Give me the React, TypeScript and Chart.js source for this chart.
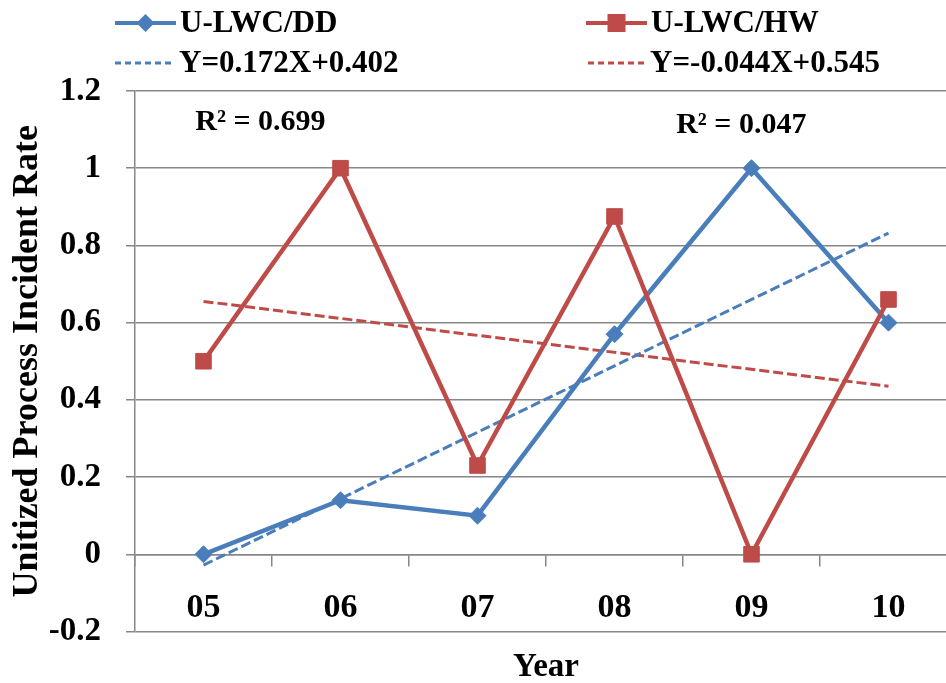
import { useEffect, useRef } from 'react';
import { Chart, registerables } from 'chart.js';

Chart.register(...registerables);

const years = ['05', '06', '07', '08', '09', '10'];
const ddRates = [0, 0.14, 0.1, 0.57, 1.0, 0.6];
const hwRates = [0.5, 1.0, 0.23, 0.875, 0, 0.66];
// linear trendlines, only the end points at 05 and 10
const ddTrend = [-0.028, null, null, null, null, 0.832];
const hwTrend = [0.655, null, null, null, null, 0.435];
const yTicks = [-0.2, 0, 0.2, 0.4, 0.6, 0.8, 1, 1.2];
const r2Texts = ['R² = 0.699', 'R² = 0.047'];
const r2Index = [-0.06, 3.45];
const r2Value = [1.12, 1.112];

const BLUE = '#4A7EBB';
const RED = '#BE4B48';
const GRID = '#878787';
const FONT = "'Liberation Serif', 'Times New Roman', serif";

// Excel style legend in two columns above the plot
const legendPlugin = {
  id: 'excelLegend',
  afterDraw(chart: any) {
    const { ctx } = chart;
    const slots = [
      { ds: 0, x: 115, y: 23, w: 61 },
      { ds: 1, x: 586, y: 23, w: 61 },
      { ds: 2, x: 115, y: 63, w: 60 },
      { ds: 3, x: 588, y: 63, w: 58 },
    ];
    ctx.save();
    slots.forEach((s) => {
      const ds = chart.data.datasets[s.ds];
      const trend = ds.pointRadius === 0;
      ctx.strokeStyle = ds.borderColor;
      ctx.lineWidth = trend ? 3 : 4;
      ctx.setLineDash(trend ? [6, 4] : []);
      ctx.beginPath();
      ctx.moveTo(s.x, s.y);
      ctx.lineTo(s.x + s.w, s.y);
      ctx.stroke();
      ctx.setLineDash([]);
      const cx = s.x + s.w / 2;
      ctx.fillStyle = ds.borderColor;
      if (ds.pointStyle === 'rectRot') {
        const r = 9;
        ctx.beginPath();
        ctx.moveTo(cx, s.y - r);
        ctx.lineTo(cx + r, s.y);
        ctx.lineTo(cx, s.y + r);
        ctx.lineTo(cx - r, s.y);
        ctx.closePath();
        ctx.fill();
      } else if (ds.pointStyle === 'rect') {
        ctx.fillRect(cx - 9, s.y - 9, 18, 18);
      }
      ctx.fillStyle = '#000';
      ctx.font = `bold 31px ${FONT}`;
      ctx.textAlign = 'left';
      ctx.textBaseline = 'middle';
      ctx.fillText(ds.label, s.x + s.w + 4, s.y + 1);
    });
    ctx.restore();
  },
};

// R² labels placed through the scales
const r2Plugin = {
  id: 'r2Labels',
  afterDraw(chart: any) {
    const { ctx, scales } = chart;
    ctx.save();
    ctx.fillStyle = '#000';
    ctx.font = `bold 30px ${FONT}`;
    ctx.textAlign = 'left';
    ctx.textBaseline = 'middle';
    r2Texts.forEach((t, i) => {
      ctx.fillText(t, scales.x.getPixelForValue(r2Index[i]), scales.y.getPixelForValue(r2Value[i]));
    });
    ctx.restore();
  },
};

export default function App() {
  const canvasRef = useRef<HTMLCanvasElement>(null);

  useEffect(() => {
    if (!canvasRef.current) return;
    const chart = new Chart(canvasRef.current, {
      type: 'line',
      data: {
        labels: years,
        datasets: [
          {
            label: 'U-LWC/DD',
            data: ddRates,
            borderColor: BLUE,
            backgroundColor: BLUE,
            borderWidth: 4.5,
            pointStyle: 'rectRot',
            pointRadius: 8.5,
            pointBorderWidth: 1,
            tension: 0,
            order: 1,
          },
          {
            label: 'U-LWC/HW',
            data: hwRates,
            borderColor: RED,
            backgroundColor: RED,
            borderWidth: 4.5,
            pointStyle: 'rect',
            pointRadius: 11,
            pointBorderWidth: 1,
            tension: 0,
            order: 0,
          },
          {
            label: 'Y=0.172X+0.402',
            data: ddTrend,
            borderColor: BLUE,
            borderWidth: 3,
            borderDash: [10, 4],
            pointRadius: 0,
            spanGaps: true,
            order: 2,
          },
          {
            label: 'Y=-0.044X+0.545',
            data: hwTrend,
            borderColor: RED,
            borderWidth: 3,
            borderDash: [10, 4],
            pointRadius: 0,
            spanGaps: true,
            order: 2,
          },
        ],
      },
      options: {
        animation: false,
        responsive: false,
        layout: { padding: { top: 91, bottom: 51.5, left: 0, right: 0 } },
        plugins: {
          legend: { display: false },
          tooltip: { enabled: false },
        },
        scales: {
          x: {
            type: 'category',
            position: { y: 0 },
            offset: true,
            grid: {
              offset: true,
              drawOnChartArea: false,
              drawTicks: true,
              tickLength: 11,
              color: GRID,
              lineWidth: 1.5,
            },
            border: { display: true, color: GRID, width: 1.5 },
            ticks: {
              color: '#000',
              font: { family: FONT, size: 34, weight: 'bold' },
              padding: 23,
              maxRotation: 0,
              autoSkip: false,
            },
            title: {
              display: true,
              text: 'Year',
              color: '#000',
              font: { family: FONT, size: 33, weight: 'bold' },
              padding: 0,
            },
            afterFit: (s: any) => {
              s.height = 133;
            },
          },
          y: {
            min: -0.2,
            max: 1.2,
            afterBuildTicks: (axis: any) => {
              axis.ticks = yTicks.map((v) => ({ value: v }));
            },
            grid: { color: GRID, lineWidth: 1.5, tickLength: 9, drawTicks: true },
            border: { color: GRID, width: 1.5 },
            ticks: {
              color: '#000',
              font: { family: FONT, size: 33, weight: 'bold' },
              padding: 25,
              callback: (v: any) => String(Number(Number(v).toFixed(1))),
            },
            title: {
              display: true,
              text: 'Unitized Process Incident Rate',
              color: '#000',
              font: { family: FONT, size: 36, weight: 'bold' },
              padding: { top: 6, bottom: 0 },
            },
            afterFit: (s: any) => {
              s.width = 135;
            },
          },
        },
      },
      plugins: [legendPlugin, r2Plugin],
    });
    return () => chart.destroy();
  }, []);

  return (
    <div
      style={{
        position: 'fixed',
        left: 0,
        top: 0,
        width: 946,
        height: 683,
        overflow: 'hidden',
        background: '#fff',
      }}
    >
      <canvas ref={canvasRef} width={969} height={683} style={{ display: 'block' }} />
    </div>
  );
}
